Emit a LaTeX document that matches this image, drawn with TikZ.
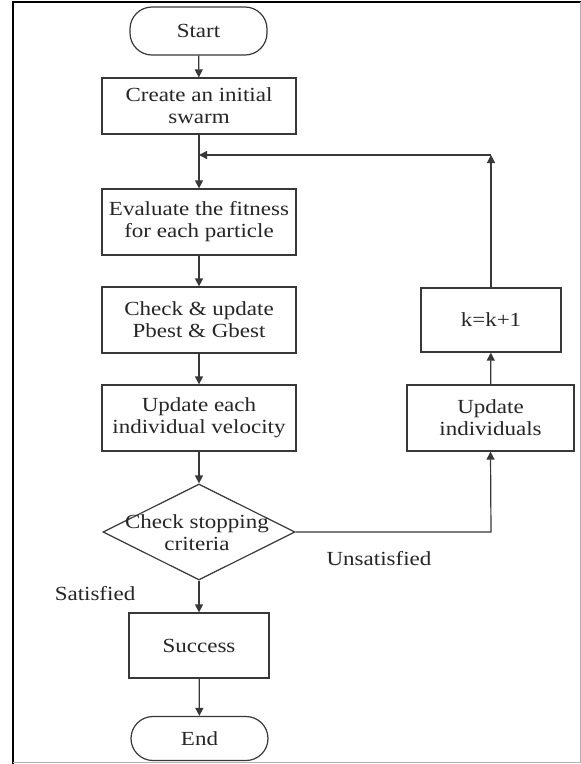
\documentclass[tikz,border=0pt]{standalone}
\usepackage{fontspec}
\setmainfont{Liberation Serif}[FakeStretch=1.15]
\usetikzlibrary{shapes.geometric,arrows.meta}
\newcommand\myfs{\fontsize{20}{22}\selectfont}
\begin{document}
\begin{tikzpicture}[x=1pt,y=-1pt,
  ln/.style={draw=black!78, line width=1.2pt},
  arr/.style={ln, -{Triangle[length=8pt,width=8pt]}},
  box/.style={ln, rectangle, inner sep=0pt, align=center, text=black!85, font=\myfs},
  term/.style={box, rounded corners=22pt},
  lbl/.style={text=black!85, font=\myfs, inner sep=0pt, align=center}]
\useasboundingbox (0,0) rectangle (581,764);
\fill[white] (0,0) rectangle (581,764);
% frame
\draw[black, line width=2pt] (12.5,764) -- (12.5,1.5) -- (581,1.5);
\draw[gray!60, line width=1pt] (580,1.5) -- (580,762) -- (12.5,762);

\node[term, minimum width=137pt, minimum height=48pt] (start) at (198.5,31) {Start};
\node[box, minimum width=194pt, minimum height=56pt] (create) at (199,106) {Create an initial\\swarm};
\node[box, minimum width=194pt, minimum height=66pt] (eval) at (199,222) {Evaluate the fitness\\for each particle};
\node[box, minimum width=194pt, minimum height=66pt] (check) at (199,320) {Check \& update\\Pbest \& Gbest};
\node[box, minimum width=194pt, minimum height=66pt] (vel) at (199,418) {Update each\\individual velocity};
\node[ln, diamond, minimum width=192pt, minimum height=96pt, inner sep=0pt] (dec) at (199,532) {};
\node[lbl] (dectext) at (197,533) {Check stopping\\criteria};
\node[box, minimum width=140pt, minimum height=65pt] (succ) at (199,645.5) {Success};
\node[term, minimum width=137pt, minimum height=44pt] (end) at (199.5,738.5) {End};
\node[box, minimum width=167pt, minimum height=66pt] (upd) at (490.5,418) {Update\\individuals};
\node[box, minimum width=140pt, minimum height=64pt] (kk) at (491,320) {k=k+1};
\node[lbl] (unsat) at (379,559) {Unsatisfied};
\node[lbl] (sat) at (95,594) {Satisfied};
\coordinate (corner) at (491,155);
\coordinate (join) at (199,155);
\coordinate (turn) at (491,532);

\draw[arr] (start) -- (create);
\draw[arr] (create) -- (eval);
\draw[arr] (eval) -- (check);
\draw[arr] (check) -- (vel);
\draw[arr] (vel) -- (dec);
\draw[arr] (dec) -- (succ);
\draw[arr] (succ) -- (end);
\draw[arr] (dec.east) -- (turn) -- (upd.south);
\draw[arr] (upd) -- (kk);
\draw[arr] (kk.north) -- (corner);
\draw[arr] (corner) -- (join);
\end{tikzpicture}
\end{document}
